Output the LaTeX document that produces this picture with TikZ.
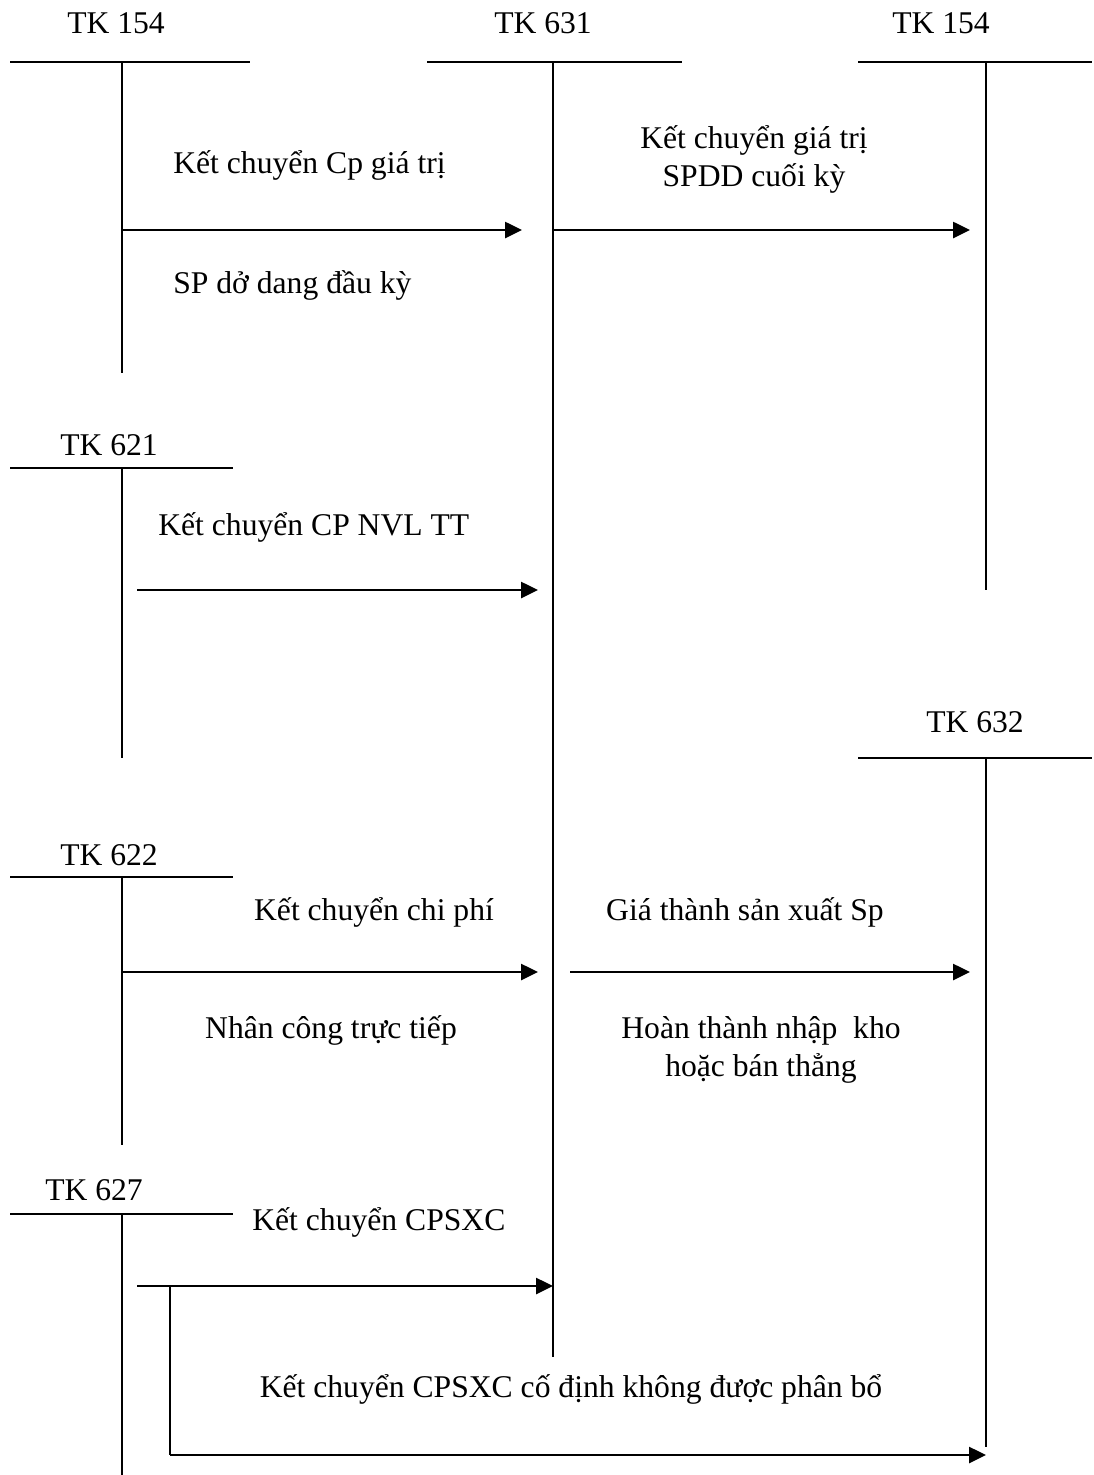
\documentclass[tikz,border=0pt]{standalone}
\usepackage{fontspec}
\setmainfont{Liberation Serif}
\usetikzlibrary{arrows.meta}

\begin{document}
\begin{tikzpicture}[x=0.02cm, y=-0.02cm,
    tline/.style={line width=1.1pt},
    flow/.style={line width=1.5pt, -{Triangle[length=0.34cm, width=0.32cm]}},
    acc/.style={anchor=base, inner sep=0pt, font=\fontsize{18}{22}\selectfont},
    txt/.style={anchor=base, inner sep=0pt, font=\fontsize{18}{22}\selectfont, align=center}]

    \useasboundingbox (0,0) rectangle (1094,1475);

    % --- TOP ROW OF ACCOUNTS ---
    \node[acc] (tk154a) at (116,33) {TK 154};
    \node[acc] (tk631) at (543,33) {TK 631};
    \node[acc] (tk154b) at (941,33) {TK 154};

    \draw[tline] (10,62) -- (250,62);
    \draw[tline] (122,62) -- (122,373);
    \draw[tline] (427,62) -- (682,62);
    \draw[tline] (553,62) -- (553,1357);
    \draw[tline] (858,62) -- (1092,62);
    \draw[tline] (986,62) -- (986,590);

    % --- LEFT ACCOUNTS ---
    \node[acc] (tk621) at (109,455) {TK 621};
    \draw[tline] (10,468) -- (233,468);
    \draw[tline] (122,468) -- (122,758);

    \node[acc] (tk622) at (109,865) {TK 622};
    \draw[tline] (10,877) -- (233,877);
    \draw[tline] (122,877) -- (122,1145);

    \node[acc] (tk627) at (94,1200) {TK 627};
    \draw[tline] (10,1214) -- (233,1214);
    \draw[tline] (122,1214) -- (122,1475);

    % --- RIGHT ACCOUNT TK 632 ---
    \node[acc] (tk632) at (975,732) {TK 632};
    \draw[tline] (858,758) -- (1092,758);
    \draw[tline] (986,758) -- (986,1447);

    % --- ARROW END POINTS ---
    \coordinate (a1s) at (122,230);  \coordinate (a1e) at (522,230);
    \coordinate (a2s) at (553,230);  \coordinate (a2e) at (970,230);
    \coordinate (a3s) at (137,590);  \coordinate (a3e) at (538,590);
    \coordinate (a4s) at (122,972);  \coordinate (a4e) at (538,972);
    \coordinate (a5s) at (570,972);  \coordinate (a5e) at (970,972);
    \coordinate (a6s) at (137,1286); \coordinate (a6e) at (553,1286);
    \coordinate (br) at (170,1286);
    \coordinate (brd) at (170,1455); \coordinate (a7e) at (986,1455);

    % --- FLOWS ---
    \draw[flow] (a1s) -- (a1e);
    \draw[flow] (a2s) -- (a2e);
    \draw[flow] (a3s) -- (a3e);
    \draw[flow] (a4s) -- (a4e);
    \draw[flow] (a5s) -- (a5e);
    \draw[flow] (a6s) -- (a6e);
    % branch down to TK 632
    \draw[tline] (br) -- (brd);
    \draw[flow] (brd) -- (a7e);

    % --- FLOW LABELS ---
    \node[txt, anchor=base west] (l1) at (173,173) {Kết chuyển Cp giá trị};
    \node[txt, anchor=base west] (l1b) at (173,293) {SP dở dang đầu kỳ};
    \node[txt] (l2) at (754,148) {Kết chuyển giá trị};
    \node[txt] (l2b) at (754,186) {SPDD cuối kỳ};
    \node[txt, anchor=base west] (l3) at (158,535) {Kết chuyển CP NVL TT};
    \node[txt] (l4) at (374,920) {Kết chuyển chi phí};
    \node[txt] (l4b) at (331,1038) {Nhân công trực tiếp};
    \node[txt] (l5) at (745,920) {Giá thành sản xuất Sp};
    \node[txt] (l5b) at (761,1038) {Hoàn thành nhập\ \ kho};
    \node[txt] (l5c) at (761,1076) {hoặc bán thẳng};
    \node[txt, anchor=base west] (l6) at (252,1230) {Kết chuyển CPSXC};
    \node[txt] (l7) at (571,1397) {Kết chuyển CPSXC cố định không được phân bổ};

\end{tikzpicture}
\end{document}
